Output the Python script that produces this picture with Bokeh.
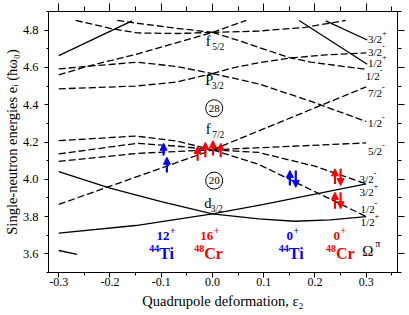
from bokeh.plotting import figure
from bokeh.models import (Range1d, LinearAxis, FixedTicker, NumeralTickFormatter,
                          CustomJSTickFormatter, ColumnDataSource, Arrow, NormalHead)
from bokeh.core.properties import value
from bokeh.embed import file_html
from bokeh.resources import INLINE

FONT = "Liberation Serif"
BLUE = "#0000ff"
RED = "#ff0000"

# ---------------- axis ticks ----------------
x_ticks = [-0.3, -0.2, -0.1, 0.0, 0.1, 0.2, 0.3]
x_minor = [-0.25, -0.15, -0.05, 0.05, 0.15, 0.25, 0.35]
y_ticks = [3.6, 3.8, 4.0, 4.2, 4.4, 4.6, 4.8]
y_minor = [3.5, 3.7, 3.9, 4.1, 4.3, 4.5, 4.7, 4.9]

# ---------------- positive parity levels (solid) ----------------
g_half_x = [-0.30, -0.157]
g_half_y = [4.663, 4.850]
up_half_x = [0.169, 0.302]
up_half_y = [4.852, 4.617]
up_3half_x = [0.221, 0.302]
up_3half_y = [4.850, 4.747]
d32_half_x = [-0.30, -0.20, -0.10, 0.0, 0.09, 0.16, 0.23, 0.30]
d32_half_y = [4.041, 3.952, 3.880, 3.815, 3.788, 3.775, 3.782, 3.800]
d32_3half_x = [-0.30, -0.15, 0.0, 0.10, 0.20, 0.30]
d32_3half_y = [3.711, 3.752, 3.815, 3.865, 3.920, 3.975]
s12_x = [-0.30, -0.264]
s12_y = [3.618, 3.597]

# ---------------- negative parity levels (dashed) ----------------
# f5/2
f52_a_x = [-0.267, -0.20, -0.147, -0.07, 0.0]
f52_a_y = [4.852, 4.810, 4.785, 4.782, 4.788]
f52_b_x = [-0.186, -0.15, -0.07, 0.0]
f52_b_y = [4.852, 4.838, 4.810, 4.788]
f52_c_x = [-0.30, -0.244, -0.147, -0.06, 0.0]
f52_c_y = [4.560, 4.606, 4.672, 4.740, 4.788]
f52_half_x = [0.0, 0.05, 0.147, 0.192, 0.30]
f52_half_y = [4.788, 4.745, 4.655, 4.628, 4.590]
f52_3half_x = [0.0, 0.09, 0.18, 0.26]
f52_3half_y = [4.788, 4.795, 4.815, 4.852]
f52_5half_x = [0.0, 0.066]
f52_5half_y = [4.788, 4.852]
# p3/2
p32_a_x = [-0.30, -0.244, -0.147, -0.07, 0.0]
p32_a_y = [4.592, 4.606, 4.628, 4.605, 4.567]
p32_b_x = [-0.30, -0.15, -0.07, 0.0]
p32_b_y = [4.485, 4.500, 4.522, 4.567]
p32_half_x = [0.0, 0.09, 0.19, 0.30]
p32_half_y = [4.567, 4.512, 4.420, 4.310]
p32_3half_x = [0.0, 0.04, 0.09, 0.15, 0.22, 0.30]
p32_3half_y = [4.567, 4.598, 4.625, 4.650, 4.667, 4.678]
# f7/2
f72_e_x = [-0.30, -0.15, -0.07, 0.0]
f72_e_y = [4.207, 4.232, 4.205, 4.158]
f72_f_x = [-0.30, -0.147, -0.07, 0.0]
f72_f_y = [4.136, 4.193, 4.178, 4.158]
f72_g_x = [-0.30, -0.147, 0.0]
f72_g_y = [4.096, 4.139, 4.158]
f72_h_x = [-0.30, -0.209, -0.10, 0.0]
f72_h_y = [3.865, 3.954, 4.060, 4.158]
f72_7half_x = [0.0, 0.30]
f72_7half_y = [4.158, 4.496]
f72_5half_x = [0.0, 0.30]
f72_5half_y = [4.158, 4.195]
f72_3half_x = [0.0, 0.09, 0.20, 0.30]
f72_3half_y = [4.158, 4.144, 4.070, 3.975]
f72_half_x = [0.0, 0.09, 0.30]
f72_half_y = [4.158, 4.080, 3.800]

# ---------------- right-hand Omega^pi labels ----------------
om_text = ["3/2", "3/2", "1/2", "1/2", "7/2", "1/2", "5/2", "3/2", "3/2", "1/2", "1/2"]
om_par = ["+", "-", "+", "-", "-", "-", "-", "-", "+", "-", "+"]
om_y = [4.755, 4.684, 4.626, 4.555, 4.461, 4.300, 4.152, 4.002, 3.930, 3.840, 3.770]
om_x = [0.3035, 0.3035, 0.3035, 0.299, 0.3035, 0.3035, 0.3035, 0.287, 0.287, 0.289, 0.289]

# ---------------- spherical shell labels ----------------
shell_l = ["f", "P", "f", "d"]
shell_j = ["5/2", "3/2", "7/2", "3/2"]
shell_x = [-0.0133, -0.0142, -0.0133, -0.0162]
shell_y = [4.742, 4.530, 4.271, 3.875]
magic = ["28", "20"]
magic_x = [0.0033, 0.0033]
magic_y = [4.381, 3.993]

# ---------------- nuclei / spin labels ----------------
spin = ["12", "16", "0", "0"]
spin_x = [-0.084, 0.0014, 0.157, 0.249]
elem = ["Ti", "Cr", "Ti", "Cr"]
mass = ["44", "48", "44", "48"]
elem_x = [-0.104, -0.016, 0.149, 0.241]
nuc_color = [BLUE, RED, BLUE, RED]
spin_y = 3.694
elem_y = 3.603

# ---------------- occupation arrows ----------------
blue_x0 = [-0.0955, -0.089, 0.151, 0.1625]
blue_y0 = [4.127, 4.037, 3.966, 4.047]
blue_x1 = [-0.0955, -0.089, 0.151, 0.1625]
blue_y1 = [4.193, 4.118, 4.047, 3.957]
red_x0 = [-0.029, -0.014, 0.001, 0.016, 0.239, 0.250, 0.239, 0.250]
red_y0 = [4.100, 4.118, 4.127, 4.118, 3.975, 4.056, 3.842, 3.930]
red_x1 = [-0.029, -0.014, 0.001, 0.016, 0.239, 0.250, 0.239, 0.250]
red_y1 = [4.176, 4.198, 4.207, 4.193, 4.056, 3.966, 3.930, 3.842]

p = figure(frame_width=349, frame_height=261,
           x_range=Range1d(-0.32, 0.361), y_range=Range1d(3.5, 4.9),
           output_backend="svg", toolbar_location=None,
           min_border_left=42, min_border_right=10, min_border_top=11, min_border_bottom=40,
           x_axis_label="Quadrupole deformation, ε₂",
           y_axis_label="Single-neutron energies eᵢ (ħω₀)")
p.grid.visible = False
p.outline_line_color = "black"
p.background_fill_color = "white"
p.border_fill_color = "white"

def style_axis(ax, ticks, minor, out, mout, labels=True):
    ax.ticker = FixedTicker(ticks=ticks, minor_ticks=minor)
    ax.major_tick_in = 0
    ax.minor_tick_in = 0
    ax.major_tick_out = out
    ax.minor_tick_out = mout
    ax.axis_line_color = "black"
    ax.major_tick_line_color = "black"
    ax.minor_tick_line_color = "black"
    if labels:
        ax.formatter = NumeralTickFormatter(format="0.0")
        ax.major_label_text_font = FONT
        ax.major_label_text_font_size = "12.5px"
        ax.major_label_text_color = "black"
        ax.axis_label_text_font = FONT
        ax.axis_label_text_font_size = "14.5px"
        ax.axis_label_text_font_style = "normal"
        ax.axis_label_text_color = "black"
    else:
        ax.formatter = CustomJSTickFormatter(code="return ''")
        ax.major_label_standoff = 0

style_axis(p.xaxis[0], x_ticks, x_minor, 5, 3)
p.xaxis[0].major_label_standoff = 0
p.xaxis[0].axis_label_standoff = 4
p.xaxis[0].major_label_text_font_size = "12px"
style_axis(p.yaxis[0], y_ticks, y_minor, 4, 2)
p.yaxis[0].major_label_standoff = 6
p.yaxis[0].axis_label_standoff = 0

top = LinearAxis()
style_axis(top, x_ticks, x_minor, 8, 5, labels=False)
p.add_layout(top, "above")
right = LinearAxis()
style_axis(right, y_ticks, y_minor, 7, 4, labels=False)
p.add_layout(right, "right")

solid = [(g_half_x, g_half_y), (up_half_x, up_half_y), (up_3half_x, up_3half_y),
         (d32_half_x, d32_half_y), (d32_3half_x, d32_3half_y), (s12_x, s12_y)]
dashed = [(f52_a_x, f52_a_y), (f52_b_x, f52_b_y), (f52_c_x, f52_c_y),
          (f52_half_x, f52_half_y), (f52_3half_x, f52_3half_y), (f52_5half_x, f52_5half_y),
          (p32_a_x, p32_a_y), (p32_b_x, p32_b_y), (p32_half_x, p32_half_y), (p32_3half_x, p32_3half_y),
          (f72_e_x, f72_e_y), (f72_f_x, f72_f_y), (f72_g_x, f72_g_y), (f72_h_x, f72_h_y),
          (f72_7half_x, f72_7half_y), (f72_5half_x, f72_5half_y),
          (f72_3half_x, f72_3half_y), (f72_half_x, f72_half_y)]
for xs, ys in solid:
    p.line(xs, ys, line_color="black", line_width=1.3)
for xs, ys in dashed:
    p.line(xs, ys, line_color="black", line_width=1.3, line_dash="7 3")

# Omega labels
p.text(om_x, om_y, text=om_text, text_font=value(FONT), text_font_size="11px",
       text_align="left", text_baseline="middle", text_color="black")
p.text(om_x, om_y, text=om_par, text_font=value(FONT), text_font_size="8.5px",
       text_align="left", text_baseline="middle", text_color="black", x_offset=14, y_offset=-6)
p.text([0.292], [3.618], text=["Ω"], text_font=value(FONT), text_font_size="15px",
       text_align="left", text_baseline="middle", text_color="black")
p.text([0.292], [3.618], text=["π"], text_font=value(FONT), text_font_size="10px",
       text_align="left", text_baseline="middle", text_color="black", x_offset=13, y_offset=-7)

# shell labels
p.text(shell_x, shell_y, text=shell_l, text_font=value(FONT), text_font_size="14.5px",
       text_align="left", text_baseline="middle", text_color="black")
p.text(shell_x, shell_y, text=shell_j, text_font=value(FONT), text_font_size="9.5px",
       text_align="left", text_baseline="middle", text_color="black", x_offset=6.5, y_offset=6)
p.scatter(magic_x, magic_y, size=17, marker="circle", fill_color=None, line_color="black", line_width=1)
p.text(magic_x, magic_y, text=magic, text_font=value(FONT), text_font_size="11px",
       text_align="center", text_baseline="middle", text_color="black")

# nuclei labels
src = ColumnDataSource(dict(sx=spin_x, sy=[spin_y] * 4, spin=spin, ex=elem_x, ey=[elem_y] * 4,
                            elem=elem, mass=mass, plus=["+"] * 4, col=nuc_color))
p.text("sx", "sy", text="spin", source=src, text_font=value(FONT), text_font_size="13px",
       text_font_style="bold", text_align="right", text_baseline="middle", text_color="col")
p.text("sx", "sy", text="plus", source=src, text_font=value(FONT), text_font_size="9.5px",
       text_font_style="bold", text_align="left", text_baseline="middle", text_color="col",
       x_offset=0.5, y_offset=-6)
p.text("ex", "ey", text="elem", source=src, text_font=value(FONT), text_font_size="16px",
       text_font_style="bold", text_align="left", text_baseline="middle", text_color="col")
p.text("ex", "ey", text="mass", source=src, text_font=value(FONT), text_font_size="10px",
       text_font_style="bold", text_align="right", text_baseline="middle", text_color="col",
       y_offset=-5)

# arrows
bsrc = ColumnDataSource(dict(x0=blue_x0, y0=blue_y0, x1=blue_x1, y1=blue_y1))
rsrc = ColumnDataSource(dict(x0=red_x0, y0=red_y0, x1=red_x1, y1=red_y1))
for s, c in [(bsrc, BLUE), (rsrc, RED)]:
    p.add_layout(Arrow(source=s, x_start="x0", y_start="y0", x_end="x1", y_end="y1",
                       line_color=c, line_width=2.2,
                       end=NormalHead(size=7, fill_color=c, line_color=c, line_width=1)))

open("out.html", "w").write(file_html(p, INLINE))
